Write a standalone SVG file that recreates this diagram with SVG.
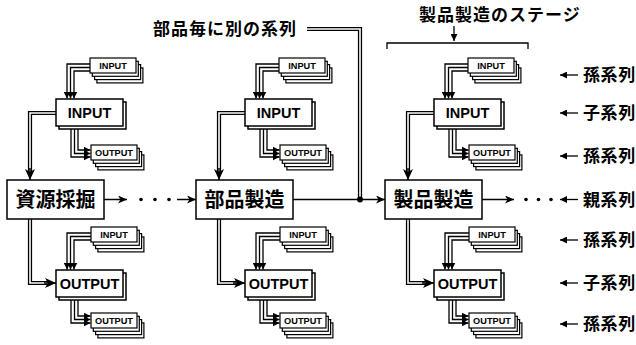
<svg xmlns="http://www.w3.org/2000/svg" xmlns:xlink="http://www.w3.org/1999/xlink" width="636" height="345" viewBox="0 0 636 345">
<style>
.bx{fill:#fff;stroke:#000;stroke-width:1.5}
.sm{fill:#fff;stroke:#000;stroke-width:1.2}
.ln{fill:none;stroke:#000;stroke-width:1.5}
.bd{fill:none;stroke:#000;stroke-width:1.3}
.dbo{fill:none;stroke:#000;stroke-width:4.2}
.dbi{fill:none;stroke:#fff;stroke-width:1.6}
.lat{font-family:"Liberation Sans",Arial,sans-serif;font-weight:bold;text-anchor:middle;fill:#000}
.big{font-size:14.5px}
.tiny{font-size:9.2px}
.jp{font-family:"Noto Sans CJK JP","Noto Sans CJK SC",sans-serif;fill:#000}
.main{font-size:20px;font-weight:bold;text-anchor:middle}
.lab{font-size:17px;font-weight:bold;letter-spacing:0.6px}
.top{font-size:17px;font-weight:bold;letter-spacing:1px}
.dot{fill:#000}
</style>
<defs>
<marker id="ah" markerUnits="userSpaceOnUse" markerWidth="10" markerHeight="8" refX="9" refY="4" orient="auto">
<path d="M0,0 L9,4 L0,8 L2.5,4 Z" fill="#000"/>
</marker>
<marker id="ahs" markerUnits="userSpaceOnUse" markerWidth="8" markerHeight="7" refX="7" refY="3.5" orient="auto">
<path d="M0,0 L7,3.5 L0,7 Z" fill="#000"/>
</marker>
<marker id="ahd" markerUnits="userSpaceOnUse" markerWidth="12" markerHeight="10" refX="11" refY="5" orient="auto">
<path d="M0,0 L11,5 L0,10 L3,5 Z" fill="#000"/>
</marker>
<g id="stackS">
<rect class="sm" x="6.9" y="9.9" width="46" height="15"/>
<rect class="sm" x="4.6" y="6.6" width="46" height="15"/>
<rect class="sm" x="2.3" y="3.3" width="46" height="15"/>
<rect class="sm" x="0" y="0" width="46" height="15"/>
</g>
<g id="stackB">
<rect class="bx" x="3" y="3" width="67" height="27"/>
<rect class="bx" x="0" y="0" width="67" height="27"/>
</g>
<g id="bundles">
<path class="bd" marker-end="url(#ahs)" d="M90,64 H67 V98.5"/>
<path class="bd" marker-end="url(#ahs)" d="M90,67.5 H70.5 V98.5"/>
<path class="bd" marker-end="url(#ahs)" d="M90,71 H74 V98.5"/>
<path class="bd" marker-end="url(#ahs)" d="M78,127 V150 H90.5"/>
<path class="bd" marker-end="url(#ahs)" d="M74.5,127 V153.5 H90.5"/>
<path class="bd" marker-end="url(#ahs)" d="M71,127 V157 H90.5"/>
<path class="bd" marker-end="url(#ahs)" d="M91,233 H67 V269.5"/>
<path class="bd" marker-end="url(#ahs)" d="M91,236.5 H70.5 V269.5"/>
<path class="bd" marker-end="url(#ahs)" d="M91,240 H74 V269.5"/>
<path class="bd" marker-end="url(#ahs)" d="M78,298 V316 H90.5"/>
<path class="bd" marker-end="url(#ahs)" d="M74.5,298 V319.5 H90.5"/>
<path class="bd" marker-end="url(#ahs)" d="M71,298 V323 H90.5"/>
<path class="dbo" d="M56,113 H30 V172"/>
<path class="dbi" d="M56,113 H30 V172"/>
<path class="ln" marker-end="url(#ahd)" d="M30,168 V180"/>
<path class="dbo" d="M30,219 V283 H48"/>
<path class="dbi" d="M30,219 V283 H48"/>
<path class="ln" marker-end="url(#ahd)" d="M44,283 H56"/>
</g>
</defs>

<g id="connectors">
<use xlink:href="#bundles"/>
<use xlink:href="#bundles" transform="translate(189,0)"/>
<use xlink:href="#bundles" transform="translate(378,0)"/>
<path class="ln" marker-end="url(#ah)" d="M104,199.5 H127"/>
<circle class="dot" cx="141" cy="199.5" r="1.8"/>
<circle class="dot" cx="155" cy="199.5" r="1.8"/>
<circle class="dot" cx="169" cy="199.5" r="1.8"/>
<path class="ln" marker-end="url(#ah)" d="M177,199.5 H196"/>
<path class="ln" marker-end="url(#ah)" d="M293,199.5 H385"/>
<path class="dbo" d="M307,29 H360 V199.5"/>
<path class="dbi" d="M307,29 H360 V199.5"/>
<circle class="dot" cx="360" cy="199.5" r="3"/>
<path class="ln" marker-end="url(#ah)" d="M482,199.5 H514"/>
<circle class="dot" cx="526" cy="199.5" r="1.8"/>
<circle class="dot" cx="538.5" cy="199.5" r="1.8"/>
<circle class="dot" cx="551" cy="199.5" r="1.8"/>
<path class="bd" marker-end="url(#ahs)" d="M454,26 V41"/>
<path class="bd" d="M387,49 V43 H528 V49"/>
<path class="bd" marker-end="url(#ahs)" d="M578,75 H560"/>
<path class="bd" marker-end="url(#ahs)" d="M578,113 H560"/>
<path class="bd" marker-end="url(#ahs)" d="M578,156 H560"/>
<path class="bd" marker-end="url(#ahs)" d="M578,199.5 H560"/>
<path class="bd" marker-end="url(#ahs)" d="M578,240 H560"/>
<path class="bd" marker-end="url(#ahs)" d="M578,283 H560"/>
<path class="bd" marker-end="url(#ahs)" d="M578,324 H560"/>
</g>

<g id="col1-grand-input"><use xlink:href="#stackS" x="90" y="58"/><text class="lat tiny" x="113" y="68.8">INPUT</text></g>
<g id="col1-input"><use xlink:href="#stackB" x="56" y="99"/><text class="lat big" x="89.5" y="117.5">INPUT</text></g>
<g id="col1-grand-output"><use xlink:href="#stackS" x="91" y="145"/><text class="lat tiny" x="114" y="155.8">OUTPUT</text></g>
<g id="col1-main"><rect class="bx" x="7" y="180" width="97" height="39"/><text class="jp main" x="55.5" y="207">資源採掘</text></g>
<g id="col1-grand-input2"><use xlink:href="#stackS" x="91" y="227"/><text class="lat tiny" x="114" y="237.8">INPUT</text></g>
<g id="col1-output"><use xlink:href="#stackB" x="56" y="270"/><text class="lat big" x="89.5" y="288.5">OUTPUT</text></g>
<g id="col1-grand-output2"><use xlink:href="#stackS" x="91" y="313"/><text class="lat tiny" x="114" y="323.8">OUTPUT</text></g>

<g id="col2-grand-input"><use xlink:href="#stackS" x="279" y="58"/><text class="lat tiny" x="302" y="68.8">INPUT</text></g>
<g id="col2-input"><use xlink:href="#stackB" x="245" y="99"/><text class="lat big" x="278.5" y="117.5">INPUT</text></g>
<g id="col2-grand-output"><use xlink:href="#stackS" x="280" y="145"/><text class="lat tiny" x="303" y="155.8">OUTPUT</text></g>
<g id="col2-main"><rect class="bx" x="196" y="180" width="97" height="39"/><text class="jp main" x="244.5" y="207">部品製造</text></g>
<g id="col2-grand-input2"><use xlink:href="#stackS" x="280" y="227"/><text class="lat tiny" x="303" y="237.8">INPUT</text></g>
<g id="col2-output"><use xlink:href="#stackB" x="245" y="270"/><text class="lat big" x="278.5" y="288.5">OUTPUT</text></g>
<g id="col2-grand-output2"><use xlink:href="#stackS" x="280" y="313"/><text class="lat tiny" x="303" y="323.8">OUTPUT</text></g>

<g id="col3-grand-input"><use xlink:href="#stackS" x="468" y="58"/><text class="lat tiny" x="491" y="68.8">INPUT</text></g>
<g id="col3-input"><use xlink:href="#stackB" x="434" y="99"/><text class="lat big" x="467.5" y="117.5">INPUT</text></g>
<g id="col3-grand-output"><use xlink:href="#stackS" x="469" y="145"/><text class="lat tiny" x="492" y="155.8">OUTPUT</text></g>
<g id="col3-main"><rect class="bx" x="385" y="180" width="97" height="39"/><text class="jp main" x="433.5" y="207">製品製造</text></g>
<g id="col3-grand-input2"><use xlink:href="#stackS" x="469" y="227"/><text class="lat tiny" x="492" y="237.8">INPUT</text></g>
<g id="col3-output"><use xlink:href="#stackB" x="434" y="270"/><text class="lat big" x="467.5" y="288.5">OUTPUT</text></g>
<g id="col3-grand-output2"><use xlink:href="#stackS" x="469" y="313"/><text class="lat tiny" x="492" y="323.8">OUTPUT</text></g>

<g id="labels">
<text class="jp top" x="153" y="35">部品毎に別の系列</text>
<text class="jp top" x="419" y="21">製品製造のステージ</text>
<text class="jp lab" x="583" y="80.5">孫系列</text>
<text class="jp lab" x="583" y="119">子系列</text>
<text class="jp lab" x="583" y="162">孫系列</text>
<text class="jp lab" x="583" y="205.5">親系列</text>
<text class="jp lab" x="583" y="246">孫系列</text>
<text class="jp lab" x="583" y="289">子系列</text>
<text class="jp lab" x="583" y="330">孫系列</text>
</g>
</svg>
